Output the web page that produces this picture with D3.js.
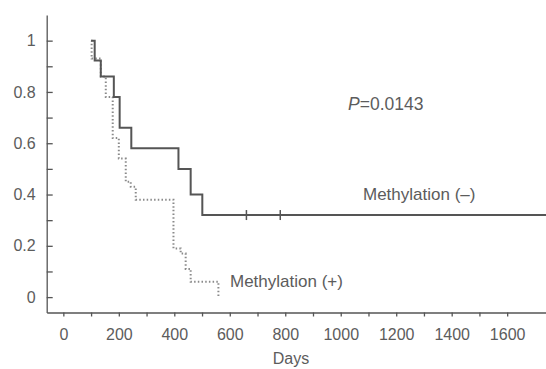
<!DOCTYPE html>
<html>
<head>
<meta charset="utf-8">
<script src="https://cdn.jsdelivr.net/npm/d3@7"></script>
<style>
  body { margin: 0; background: #fff; }
  svg { display: block; font-family: "Liberation Sans", Arial, sans-serif; }
</style>
</head>
<body>
<svg></svg>
<script>
// survival curves

let width = 546;
let height = 369;

// Methylation (-)
let negTimes = [100, 113, 135, 182, 203, 245, 415, 459, 501];
let negSurv = [1, 0.923, 0.86, 0.78, 0.66, 0.58, 0.50, 0.40, 0.32];
let negEnd = 1740;
let negCensor = [660, 782];

// Methylation (+)
let posTimes = [100, 102, 135, 153, 178, 200, 225, 243, 261, 397, 423, 441, 459, 559];
let posSurv = [1, 0.93, 0.86, 0.78, 0.62, 0.54, 0.45, 0.43, 0.38, 0.19, 0.17, 0.11, 0.06, 0];

let xTickVals = [0, 200, 400, 600, 800, 1000, 1200, 1400, 1600];
let xMinorVals = [100, 300, 500, 700, 900, 1100, 1300, 1500];
let yTickVals = [0, 0.2, 0.4, 0.6, 0.8, 1];
let yTickLabels = ["0", "0.2", "0.4", "0.6", "0.8", "1"];
let yMinorVals = [0.1, 0.3, 0.5, 0.7, 0.9];

let textColor = "#5c5c5c";
let lineColor = "#555";

let svg = d3.select("svg")
  .attr("width", width)
  .attr("height", height);

let x = d3.scaleLinear().domain([-60, 1740]).range([46.7, 546]);
let y = d3.scaleLinear().domain([-0.06, 1.1]).range([312.5, 15]);

// axes
let xAxis = svg.append("g")
  .attr("transform", "translate(0," + y(-0.06) + ")")
  .call(d3.axisBottom(x).tickValues(xTickVals).tickFormat(d3.format("d"))
    .tickSizeInner(4).tickSizeOuter(0).tickPadding(12));

svg.append("g")
  .attr("transform", "translate(0," + y(-0.06) + ")")
  .call(d3.axisBottom(x).tickValues(xMinorVals).tickSizeInner(4).tickSizeOuter(0).tickFormat(""))
  .select(".domain").remove();

let yAxis = svg.append("g")
  .attr("transform", "translate(" + x(-60) + ",0)")
  .call(d3.axisLeft(y).tickValues(yTickVals)
    .tickFormat(function(d, i) { return yTickLabels[i]; })
    .tickSizeInner(-6).tickSizeOuter(0).tickPadding(11));

svg.append("g")
  .attr("transform", "translate(" + x(-60) + ",0)")
  .call(d3.axisLeft(y).tickValues(yMinorVals).tickSizeInner(-6).tickSizeOuter(0).tickFormat(""))
  .select(".domain").remove();

svg.selectAll(".domain, .tick line")
  .attr("stroke", lineColor)
  .attr("stroke-width", 1.3);

svg.selectAll(".tick text")
  .attr("fill", textColor)
  .style("font-size", "16px");

// curves
let stepLine = d3.line()
  .x(function(d) { return x(d[0]); })
  .y(function(d) { return y(d[1]); })
  .curve(d3.curveStepAfter);

let negPts = negTimes.map(function(t, i) { return [t, negSurv[i]]; });
negPts.push([negEnd, negSurv[negSurv.length - 1]]);

let posPts = posTimes.map(function(t, i) { return [t, posSurv[i]]; });

svg.append("path")
  .attr("d", stepLine(posPts))
  .attr("fill", "none")
  .attr("stroke", "#8a8a8a")
  .attr("stroke-width", 2)
  .attr("stroke-dasharray", "1.5,2.2");

svg.append("path")
  .attr("d", stepLine(negPts))
  .attr("fill", "none")
  .attr("stroke", lineColor)
  .attr("stroke-width", 2);

// censor marks
svg.selectAll(".censor")
  .data(negCensor)
  .enter()
  .append("line")
  .attr("class", "censor")
  .attr("x1", function(d) { return x(d); })
  .attr("x2", function(d) { return x(d); })
  .attr("y1", y(negSurv[negSurv.length - 1]) - 5)
  .attr("y2", y(negSurv[negSurv.length - 1]) + 5)
  .attr("stroke", lineColor)
  .attr("stroke-width", 1.5);

// labels
svg.append("text")
  .attr("x", 348)
  .attr("y", 110)
  .attr("fill", textColor)
  .style("font-size", "17.5px")
  .html('<tspan font-style="italic">P</tspan>=0.0143');

svg.append("text")
  .attr("x", 363)
  .attr("y", 200)
  .attr("fill", textColor)
  .style("font-size", "17px")
  .text("Methylation (\u2013)");

svg.append("text")
  .attr("x", 230)
  .attr("y", 287)
  .attr("fill", textColor)
  .style("font-size", "17px")
  .text("Methylation (+)");

svg.append("text")
  .attr("x", 291)
  .attr("y", 364)
  .attr("text-anchor", "middle")
  .attr("fill", textColor)
  .style("font-size", "16px")
  .text("Days");
</script>
</body>
</html>
